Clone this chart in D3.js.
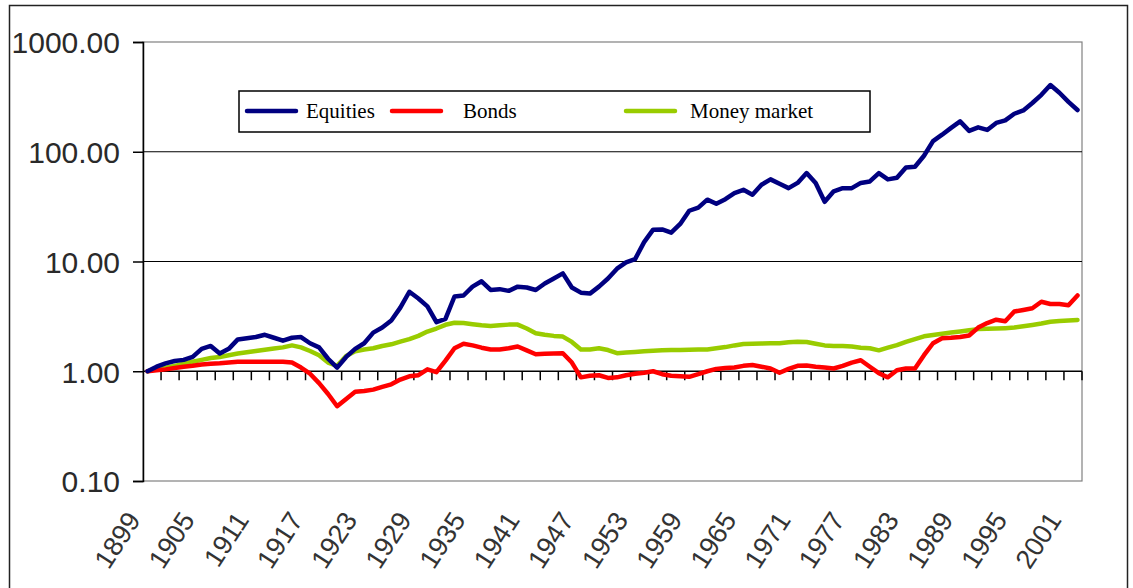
<!DOCTYPE html>
<html>
<head>
<meta charset="utf-8">
<script src="https://cdn.jsdelivr.net/npm/d3@7"></script>
<style>
  body { margin: 0; background: #fff; }
  svg { display: block; }
  .ylab { font-family: "Liberation Sans", Arial, sans-serif; font-size: 30px; fill: #2a2a2a; }
  .xlab { font-family: "Liberation Sans", Arial, sans-serif; font-size: 27px; fill: #333; }
  .leg { font-family: "Liberation Serif", "Times New Roman", serif; font-size: 21px; fill: #000; }
</style>
</head>
<body>
<svg id="chart" width="1133" height="588"></svg>
<script>
// categories: one per year, 1899 .. 2002
const years = d3.range(1899, 2003);

// cumulative index, 1899 = 1.00 (log scale)
const equities = [
  1.00, 1.10, 1.18, 1.24, 1.27, 1.35, 1.60, 1.70, 1.45, 1.60,
  1.95, 2.00, 2.05, 2.15, 2.02, 1.90, 2.02, 2.05, 1.80, 1.65,
  1.30, 1.08, 1.35, 1.60, 1.80, 2.25, 2.50, 2.90, 3.80, 5.30,
  4.60, 3.90, 2.80, 3.00, 4.80, 4.90, 5.90, 6.60, 5.50, 5.60,
  5.40, 5.90, 5.80, 5.50, 6.30, 7.00, 7.80, 5.80, 5.20, 5.10,
  5.90, 7.00, 8.60, 9.80, 10.5, 15.0, 19.5, 19.6, 18.3, 22.0,
  29.0, 31.0, 36.6, 33.6, 37.0, 42.0, 45.0, 40.6, 50.0, 56.0,
  51.0, 46.6, 52.0, 63.9, 52.0, 35.0, 43.6, 46.6, 46.6, 52.0,
  53.6, 63.9, 56.0, 58.0, 72.0, 73.0, 92.0, 125, 143, 165,
  189, 155, 167, 158, 183, 193, 222, 238, 278, 330,
  405, 345, 285, 240
];

const bonds = [
  1.00, 1.02, 1.04, 1.07, 1.10, 1.12, 1.15, 1.17, 1.18, 1.20,
  1.22, 1.22, 1.22, 1.22, 1.22, 1.22, 1.20, 1.08, 0.95, 0.78,
  0.62, 0.48, 0.56, 0.65, 0.66, 0.68, 0.72, 0.76, 0.84, 0.90,
  0.92, 1.04, 0.98, 1.25, 1.62, 1.78, 1.72, 1.64, 1.58, 1.58,
  1.62, 1.68, 1.55, 1.43, 1.44, 1.45, 1.46, 1.20, 0.88, 0.91,
  0.92, 0.87, 0.88, 0.92, 0.95, 0.97, 1.00, 0.94, 0.91, 0.90,
  0.89, 0.94, 1.00, 1.05, 1.07, 1.08, 1.12, 1.14, 1.10, 1.06,
  0.97, 1.05, 1.12, 1.13, 1.10, 1.08, 1.06, 1.12, 1.20, 1.26,
  1.10, 0.96, 0.88, 1.02, 1.06, 1.06, 1.40, 1.80, 2.00, 2.02,
  2.05, 2.12, 2.50, 2.75, 2.95, 2.85, 3.50, 3.62, 3.75, 4.30,
  4.10, 4.10, 4.00, 4.90
];

const moneyMarket = [
  1.00, 1.04, 1.08, 1.12, 1.17, 1.22, 1.27, 1.32, 1.35, 1.40,
  1.45, 1.49, 1.53, 1.57, 1.61, 1.65, 1.72, 1.65, 1.53, 1.40,
  1.20, 1.12, 1.38, 1.52, 1.58, 1.62, 1.70, 1.76, 1.86, 1.96,
  2.10, 2.30, 2.45, 2.65, 2.77, 2.75, 2.68, 2.62, 2.58, 2.62,
  2.66, 2.66, 2.45, 2.22, 2.15, 2.10, 2.07, 1.85, 1.58, 1.58,
  1.62, 1.56, 1.46, 1.48, 1.50, 1.52, 1.54, 1.55, 1.56, 1.56,
  1.57, 1.58, 1.58, 1.62, 1.66, 1.72, 1.77, 1.78, 1.79, 1.80,
  1.80, 1.84, 1.86, 1.85, 1.78, 1.72, 1.70, 1.70, 1.68, 1.64,
  1.62, 1.55, 1.64, 1.73, 1.85, 1.96, 2.08, 2.14, 2.20, 2.25,
  2.30, 2.36, 2.42, 2.44, 2.45, 2.47, 2.50, 2.57, 2.64, 2.72,
  2.82, 2.87, 2.90, 2.93
];

const yTicks = [0.1, 1, 10, 100, 1000];
const seriesNames = ["Equities", "Bonds", "Money market"];
const seriesColors = ["#000080", "#ff0000", "#99cc00"];

const svg = d3.select("#chart");

// outer frame
svg.append("rect")
    .attr("x", 9.5).attr("y", 5.5)
    .attr("width", 1118).attr("height", 620)
    .attr("fill", "none")
    .attr("stroke", "#222")
    .attr("stroke-width", 1.5);

const plotLeft = 143, plotRight = 1082, plotTop = 42, plotBottom = 481;

const x = d3.scaleBand()
    .domain(years)
    .range([plotLeft, plotRight])
    .paddingInner(0)
    .paddingOuter(0);
const bw = x.bandwidth();
const cx = d => x(d) + bw / 2;

const y = d3.scaleLog()
    .domain([0.1, 1000])
    .range([plotBottom, plotTop]);

// plot area border
svg.append("rect")
    .attr("x", plotLeft).attr("y", plotTop)
    .attr("width", plotRight - plotLeft).attr("height", plotBottom - plotTop)
    .attr("fill", "none")
    .attr("stroke", "#808080")
    .attr("stroke-width", 1.2);

// gridlines
svg.selectAll(".grid")
    .data([10, 100])
    .enter()
    .append("line")
    .attr("class", "grid")
    .attr("x1", plotLeft).attr("x2", plotRight)
    .attr("y1", d => y(d)).attr("y2", d => y(d))
    .attr("stroke", "#000")
    .attr("stroke-width", 1.2);

// y axis
const yAxis = svg.append("g")
    .attr("transform", `translate(${plotLeft},0)`)
    .call(d3.axisLeft(y)
        .tickValues(yTicks)
        .tickFormat(d3.format(".2f"))
        .tickSize(10)
        .tickPadding(13));
yAxis.attr("font-family", null).attr("font-size", null);
yAxis.select(".domain").attr("stroke", "#000").attr("stroke-width", 1.5);
yAxis.selectAll(".tick line").attr("stroke", "#000").attr("stroke-width", 1.5);
yAxis.selectAll(".tick text")
    .attr("class", "ylab")
    .attr("fill", null)
    .attr("dy", "0.36em");

// x axis drawn at value 1.00
const axisY = y(1);
svg.append("line")
    .attr("x1", plotLeft).attr("x2", plotRight)
    .attr("y1", axisY).attr("y2", axisY)
    .attr("stroke", "#000")
    .attr("stroke-width", 1.5);

const tickYears = years.filter((d, i) => i > 0 && i % 2 === 0);
svg.selectAll(".xtick")
    .data(tickYears)
    .enter()
    .append("line")
    .attr("class", "xtick")
    .attr("x1", d => x(d)).attr("x2", d => x(d))
    .attr("y1", axisY).attr("y2", axisY + 9)
    .attr("stroke", "#000")
    .attr("stroke-width", 1.5);
svg.append("line")
    .attr("x1", plotRight).attr("x2", plotRight)
    .attr("y1", axisY).attr("y2", axisY + 9)
    .attr("stroke", "#000")
    .attr("stroke-width", 1.5);

// year labels, every sixth category, turned up to the right
const labelYears = years.filter((d, i) => i % 6 === 0);
svg.selectAll(".xlab")
    .data(labelYears)
    .enter()
    .append("text")
    .attr("class", "xlab")
    .attr("text-anchor", "end")
    .attr("transform", d => `translate(${cx(d) - 6},520) rotate(-57)`)
    .text(d => d);

// series lines
const series = [equities, bonds, moneyMarket];
const line = d3.line()
    .x((d, i) => cx(years[i]))
    .y(d => y(d));

// green first, then red, then navy on top
[2, 1, 0].forEach(function (s) {
    svg.append("path")
        .datum(series[s])
        .attr("d", line)
        .attr("fill", "none")
        .attr("stroke", seriesColors[s])
        .attr("stroke-width", 4.5)
        .attr("stroke-linejoin", "round")
        .attr("stroke-linecap", "round");
});

// legend
const legend = svg.append("g");
legend.append("rect")
    .attr("x", 239).attr("y", 91)
    .attr("width", 631).attr("height", 41)
    .attr("fill", "#fff")
    .attr("stroke", "#000")
    .attr("stroke-width", 1.5);

const legendLineX = [247, 392, 626];
const legendTextX = [306, 463, 690];
seriesNames.forEach(function (name, i) {
    legend.append("line")
        .attr("x1", legendLineX[i]).attr("x2", legendLineX[i] + 49)
        .attr("y1", 111).attr("y2", 111)
        .attr("stroke", seriesColors[i])
        .attr("stroke-width", 4.5)
        .attr("stroke-linecap", "round");
    legend.append("text")
        .attr("class", "leg")
        .attr("x", legendTextX[i])
        .attr("y", 118)
        .text(name);
});
</script>
</body>
</html>
